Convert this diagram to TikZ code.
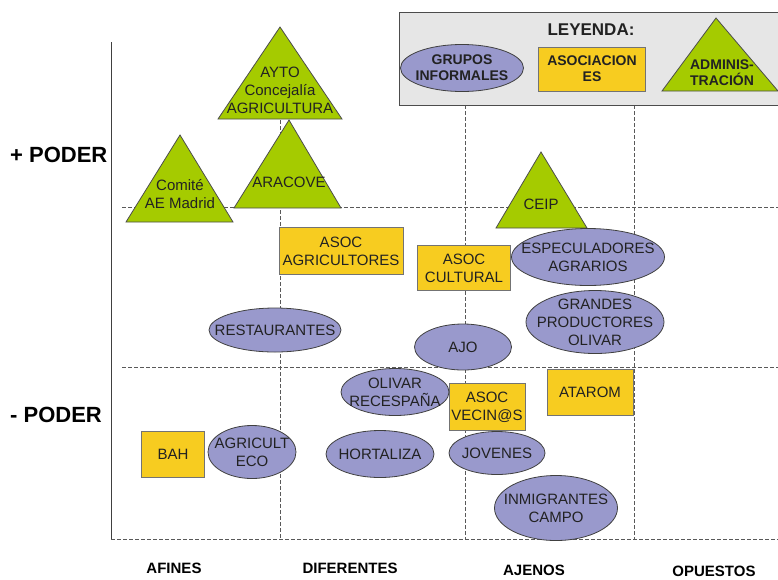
\documentclass[tikz,border=0pt]{standalone}
\usepackage{fontspec}
\setmainfont{Liberation Sans}
\usetikzlibrary{shapes.geometric}

\definecolor{grupofill}{HTML}{9999CC}
\definecolor{asocfill}{HTML}{F7CC20}
\definecolor{adminfill}{HTML}{A5CB00}
\definecolor{leyendafill}{HTML}{E6E6E6}
\definecolor{textdark}{HTML}{222222}

\tikzset{
  gridline/.style={draw=black!65, dash pattern=on 4pt off 2pt, line width=0.7pt},
  axisline/.style={draw=black!75, line width=0.8pt},
  body/.style={font=\fontsize{15}{18}\selectfont, text=textdark, align=center},
  grupo/.style={ellipse, draw=black!75, fill=grupofill, line width=0.8pt, inner sep=0pt},
  asoc/.style={body, rectangle, draw=black!55, fill=asocfill, line width=0.9pt, inner sep=0pt},
  admin/.style={draw=black!70, fill=adminfill, line width=0.8pt},
  tritext/.style={body, inner sep=0pt},
  legendtext/.style={font=\bfseries\fontsize{14}{16}\selectfont, text=textdark, align=center, inner sep=0pt},
  poder/.style={font=\bfseries\fontsize{22}{24}\selectfont, anchor=west, inner sep=0pt},
  eje/.style={font=\bfseries\fontsize{15}{17}\selectfont, inner sep=0pt},
}

\begin{document}
\begin{tikzpicture}[x=1pt,y=-1pt]
\useasboundingbox (0,0) rectangle (778,579);

% quadrant grid
\coordinate (axTop) at (111,42);
\coordinate (axBot) at (111,539);
\coordinate (hiL) at (122,207);   \coordinate (hiR) at (778,207);
\coordinate (loL) at (122,367);   \coordinate (loR) at (778,367);
\coordinate (baseR) at (778,539);
\coordinate (c1T) at (280,42);    \coordinate (c1B) at (280,539);
\coordinate (c2T) at (465,105);   \coordinate (c2B) at (465,539);
\coordinate (c3T) at (634,105);   \coordinate (c3B) at (634,539);

\draw[gridline] (hiL) -- (hiR);
\draw[gridline] (loL) -- (loR);
\draw[gridline] (axBot) -- (baseR);
\draw[gridline] (c1T) -- (c1B);
\draw[gridline] (c2T) -- (c2B);
\draw[gridline] (c3T) -- (c3B);
\draw[axisline] (axTop) -- (axBot);

% legend
\node[draw=black!70, fill=leyendafill, line width=0.8pt, minimum width=385pt, minimum height=93pt, inner sep=0pt, anchor=north west] (leyenda) at (399,12) {};
\node[font=\bfseries\fontsize{17}{19}\selectfont, text=textdark] (leyTitle) at (591,30) {LEYENDA:};
\node[grupo, minimum width=123pt, minimum height=47pt] (legGrupo) at (462,68) {};
\node[legendtext] (legGrupoT) at (legGrupo.center) {GRUPOS\\INFORMALES};
\node[asoc, legendtext, minimum width=107pt, minimum height=44pt] (legAsoc) at (592,69) {ASOCIACION\\ES};
\coordinate (la1) at (662,91); \coordinate (la2) at (778,91); \coordinate (la3) at (716,18);
\filldraw[admin] (la1) -- (la2) -- (la3) -- cycle;
\node[legendtext] (legAdmin) at (722,73) {ADMINIS-\\TRACIÓN};

% administrations
\coordinate (ay1) at (218,119); \coordinate (ay2) at (342,119); \coordinate (ay3) at (280,27);
\filldraw[admin] (ay1) -- (ay2) -- (ay3) -- cycle;
\node[tritext] (ayto) at (280,90) {AYTO\\Concejalía\\AGRICULTURA};

\coordinate (ar1) at (234,208); \coordinate (ar2) at (341,208); \coordinate (ar3) at (289,120);
\filldraw[admin] (ar1) -- (ar2) -- (ar3) -- cycle;
\node[tritext] (aracove) at (289,182) {ARACOVE};

\coordinate (co1) at (126,222); \coordinate (co2) at (233,222); \coordinate (co3) at (180,135);
\filldraw[admin] (co1) -- (co2) -- (co3) -- cycle;
\node[tritext] (comite) at (180,194) {Comité\\AE Madrid};

\coordinate (ce1) at (496,228); \coordinate (ce2) at (587,228); \coordinate (ce3) at (541,152);
\filldraw[admin] (ce1) -- (ce2) -- (ce3) -- cycle;
\node[tritext] (ceip) at (541,204) {CEIP};

% associations
\node[asoc, minimum width=124pt, minimum height=47pt] (asocAgri) at (341,251) {ASOC\\AGRICULTORES};
\node[asoc, minimum width=93pt, minimum height=45pt] (asocCult) at (464,268) {ASOC\\CULTURAL};
\node[asoc, minimum width=76pt, minimum height=47pt] (asocVec) at (487,407) {ASOC\\VECIN@S};
\node[asoc, minimum width=86pt, minimum height=46pt] (atarom) at (590,392) {ATAROM};
\node[asoc, minimum width=63pt, minimum height=46pt] (bah) at (173,454) {BAH};

% informal groups: outline first, caption on top
\node[grupo, minimum width=153pt, minimum height=57pt] (espec) at (588,257) {};
\node[tritext] (especT) at (espec.center) {ESPECULADORES\\AGRARIOS};
\node[grupo, minimum width=138pt, minimum height=63pt] (grandes) at (595,322) {};
\node[tritext] (grandesT) at (grandes.center) {GRANDES\\PRODUCTORES\\OLIVAR};
\node[grupo, minimum width=97pt, minimum height=46pt] (ajo) at (463,347) {};
\node[tritext] (ajoT) at (ajo.center) {AJO};
\node[grupo, minimum width=132pt, minimum height=44pt] (rest) at (275,330) {};
\node[tritext] (restT) at (rest.center) {RESTAURANTES};
\node[grupo, minimum width=108pt, minimum height=47pt] (olivar) at (395,392) {};
\node[tritext] (olivarT) at (olivar.center) {OLIVAR\\RECESPAÑA};
\node[grupo, minimum width=108pt, minimum height=47pt] (hort) at (380,454) {};
\node[tritext] (hortT) at (hort.center) {HORTALIZA};
\node[grupo, minimum width=96pt, minimum height=43pt] (jov) at (497,453) {};
\node[tritext] (jovT) at (jov.center) {JOVENES};
\node[grupo, minimum width=123pt, minimum height=65pt] (inmig) at (556,508) {};
\node[tritext] (inmigT) at (inmig.center) {INMIGRANTES\\CAMPO};
\node[grupo, minimum width=88pt, minimum height=53pt] (agrieco) at (252,452) {};
\node[tritext] (agriecoT) at (agrieco.center) {AGRICULT\\ECO};

% axis labels
\node[poder] (masPoder) at (10,155) {+ PODER};
\node[poder] (menosPoder) at (10,415) {- PODER};
\node[eje] (afines) at (174,568) {AFINES};
\node[eje] (diferentes) at (350,568) {DIFERENTES};
\node[eje] (ajenos) at (534,570) {AJENOS};
\node[eje] (opuestos) at (714,571) {OPUESTOS};
\end{tikzpicture}
\end{document}
